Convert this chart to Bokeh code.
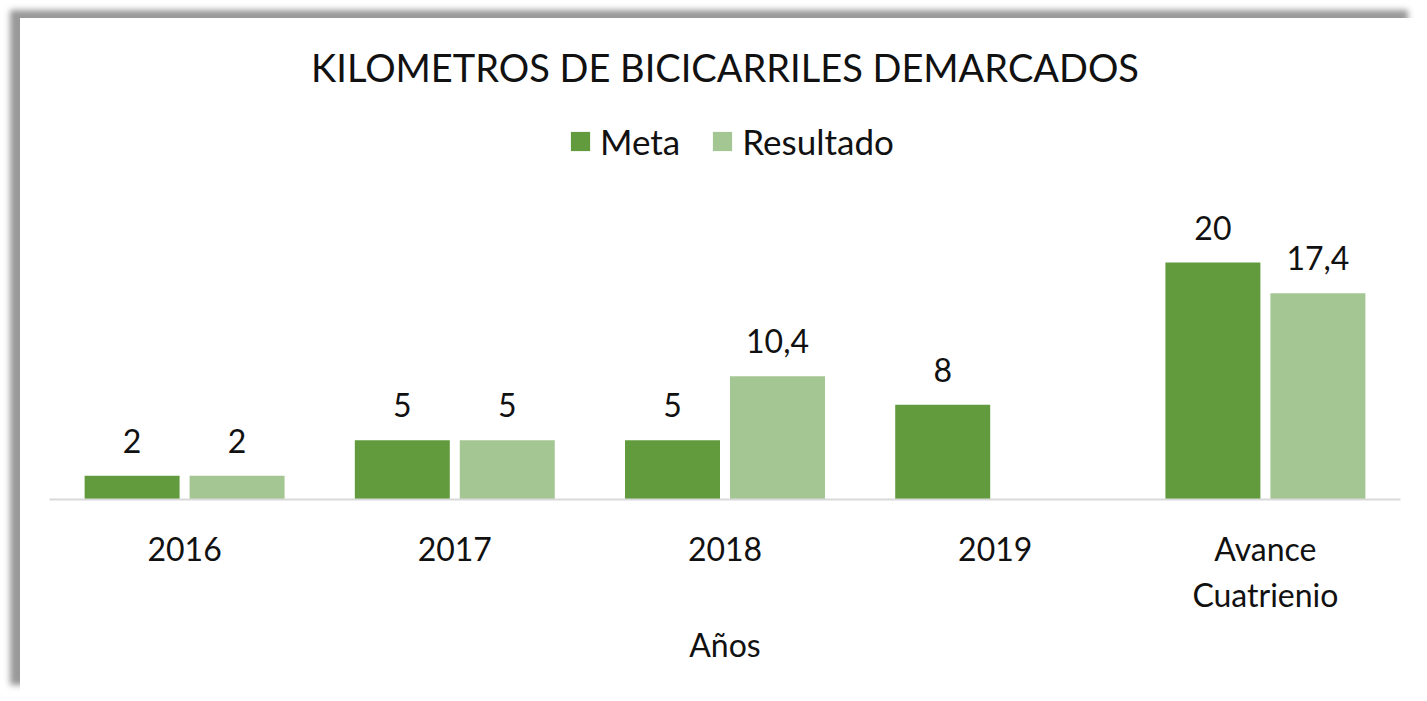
from bokeh.plotting import figure
from bokeh.models import ColumnDataSource, Legend, LegendItem, FactorRange, Range1d
from bokeh.transform import dodge
from bokeh.core.properties import value
from bokeh.embed import file_html
from bokeh.resources import INLINE
import math

categories = ["2016", "2017", "2018", "2019", "Avance\nCuatrienio"]
meta = [2, 5, 5, 8, 20]
resultado = [2, 5, 10.4, float("nan"), 17.4]

def fmt(v):
    if v is None or (isinstance(v, float) and math.isnan(v)):
        return ""
    s = ("%g" % v).replace(".", ",")
    return s

FONT = "Lato"
C_META = "#629B3E"
C_RES = "#A4C692"

src = ColumnDataSource(dict(
    cat=categories,
    meta=meta,
    res=resultado,
    meta_lbl=[fmt(v) for v in meta],
    res_lbl=[fmt(v) for v in resultado],
))

p = figure(
    x_range=FactorRange(*categories, range_padding=0),
    y_range=Range1d(0, 34.18),
    width=1398, height=675,
    output_backend="svg", toolbar_location=None,
    min_border_left=29, min_border_right=18,
    min_border_top=76, min_border_bottom=194,
    margin=(18, 0, 0, 20),
    styles={"box-shadow": "-10px -8px 6px #999999"},
)
p.outline_line_color = None
p.background_fill_color = "white"
p.border_fill_color = "white"
p.xgrid.visible = False
p.ygrid.visible = False
p.yaxis.visible = False

bw = 95 / 270.25
off = 52.5 / 270.25
r1 = p.vbar(x=dodge("cat", -off, range=p.x_range), top="meta", width=bw, source=src,
            fill_color=C_META, line_color=None)
r2 = p.vbar(x=dodge("cat", off, range=p.x_range), top="res", width=bw, source=src,
            fill_color=C_RES, line_color=None)

p.text(x=dodge("cat", -off, range=p.x_range), y="meta", text="meta_lbl", source=src,
       text_align="center", text_baseline="alphabetic", y_offset=-35,
       text_font=value(FONT), text_font_size="32px", text_color="#111111")
p.text(x=dodge("cat", off, range=p.x_range), y="res", text="res_lbl", source=src,
       text_align="center", text_baseline="alphabetic", y_offset=-35,
       text_font=value(FONT), text_font_size="32px", text_color="#111111")

ax = p.xaxis[0]
ax.axis_line_color = "#d9d9d9"
ax.axis_line_width = 2
ax.major_tick_line_color = None
ax.minor_tick_line_color = None
ax.major_label_text_font = FONT
ax.major_label_text_font_size = "32px"
ax.major_label_text_color = "#111111"
ax.major_label_standoff = 23
ax.major_label_text_align = "center"
ax.axis_label = "Años"
ax.axis_label_text_font = FONT
ax.axis_label_text_font_size = "32px"
ax.axis_label_text_font_style = "normal"
ax.axis_label_text_color = "#111111"
ax.axis_label_standoff = 8

p.title.text = "KILOMETROS DE BICICARRILES DEMARCADOS"
p.title.text_font = FONT
p.title.text_font_size = "38px"
p.title.text_font_style = "normal"
p.title.text_color = "#111111"
p.title.align = "center"
p.title.standoff = 10

legend = Legend(items=[LegendItem(label="Meta", renderers=[r1]),
                       LegendItem(label="Resultado", renderers=[r2])],
                orientation="horizontal", location=(519, 337),
                label_text_font=FONT, label_text_font_size="35px", label_text_color="#111111",
                glyph_width=24, glyph_height=24, spacing=30, padding=0, margin=0,
                border_line_color=None, background_fill_alpha=0, label_standoff=8)
p.add_layout(legend, "center")

open("out.html", "w").write(file_html(p, INLINE))
